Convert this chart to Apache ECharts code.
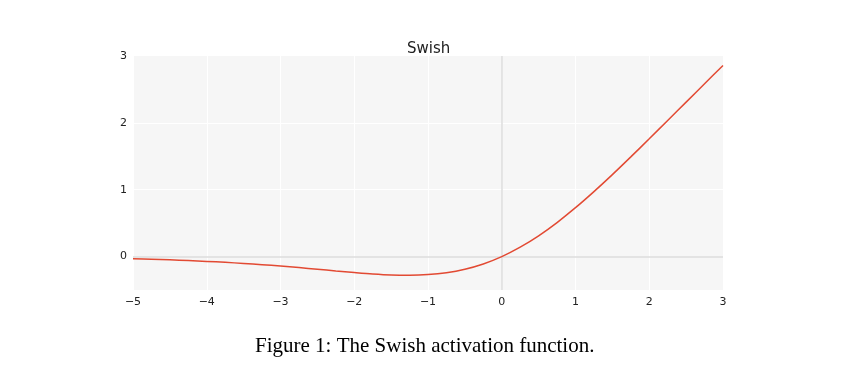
<!DOCTYPE html>
<html><head><meta charset="utf-8">
<script src="https://cdn.jsdelivr.net/npm/echarts@6/dist/echarts.min.js"></script>
<style>html,body{margin:0;padding:0;background:#fff}#c{width:864px;height:375px}</style>
</head><body><div id="c"></div>
<script>
const xValues = [-5,-4.75,-4.5,-4.25,-4,-3.75,-3.5,-3.25,-3,-2.75,-2.5,-2.25,-2,-1.75,-1.5,-1.25,-1,-0.75,-0.5,-0.25,0,0.25,0.5,0.75,1,1.25,1.5,1.75,2,2.25,2.5,2.75,3];
const yValues = [-0.034,-0.041,-0.049,-0.060,-0.072,-0.086,-0.103,-0.121,-0.142,-0.165,-0.190,-0.215,-0.238,-0.259,-0.274,-0.278,-0.269,-0.241,-0.189,-0.110,0,0.141,0.311,0.509,0.731,0.972,1.226,1.491,1.762,2.036,2.310,2.585,2.858];
const xTickValues = [-5,-4,-3,-2,-1,0,1,2,3];
const xTickLabels = ['\u22125','\u22124','\u22123','\u22122','\u22121','0','1','2','3'];
const yTickValues = [0,1,2,3];
const yTickLabels = ['0','1','2','3'];
const chartTitle = 'Swish';
const caption = 'Figure 1: The Swish activation function.';

const chart = echarts.init(document.getElementById('c'), null, {renderer:'canvas'});
const font = 'DejaVu Sans';
chart.setOption({
  animation:false,
  title:[
    {text:chartTitle, left:402, top:37,
     textStyle:{fontFamily:font, fontSize:15, fontWeight:'normal', color:'#222'}},
    {text:caption, left:250, top:331,
     textStyle:{fontFamily:'Liberation Serif', fontSize:21, fontWeight:'normal', color:'#000'}}
  ],
  grid:{left:133, right:141, top:56, bottom:85, show:true, backgroundColor:'#f6f6f6', borderWidth:0},
  xAxis:{type:'value', min:-5, max:3, interval:1,
    axisLine:{show:false}, axisTick:{show:false},
    axisLabel:{margin:7, fontFamily:font, fontSize:11, color:'#222',
      formatter:v=>{const i=xTickValues.indexOf(v);return i>=0?xTickLabels[i]:'';}},
    splitLine:{show:true, lineStyle:{color:'#ffffff', width:1}}},
  yAxis:{type:'value', min:-0.5, max:3,
    axisLine:{show:false}, axisTick:{show:false},
    axisLabel:{customValues:yTickValues, margin:6, fontFamily:font, fontSize:11, color:'#222',
      formatter:v=>{const i=yTickValues.indexOf(v);return i>=0?yTickLabels[i]:'';}},
    splitLine:{show:false}},
  series:[
    {type:'line', data:[], z:1, silent:true,
     markLine:{symbol:'none', silent:true, z:1, label:{show:false}, animation:false,
       data:[
         {yAxis:1, lineStyle:{color:'#ffffff', width:1, type:'solid'}},
         {yAxis:2, lineStyle:{color:'#ffffff', width:1, type:'solid'}},
         {yAxis:0, lineStyle:{color:'#dcdcdc', width:1.5, type:'solid'}},
         {xAxis:0, lineStyle:{color:'#dcdcdc', width:1.5, type:'solid'}}
       ]}},
    {type:'line', z:5, data:xValues.map((x,i)=>[x,yValues[i]]), smooth:0.3, showSymbol:false,
     lineStyle:{color:'#e24a33', width:1.5}}
  ]
});
</script></body></html>
